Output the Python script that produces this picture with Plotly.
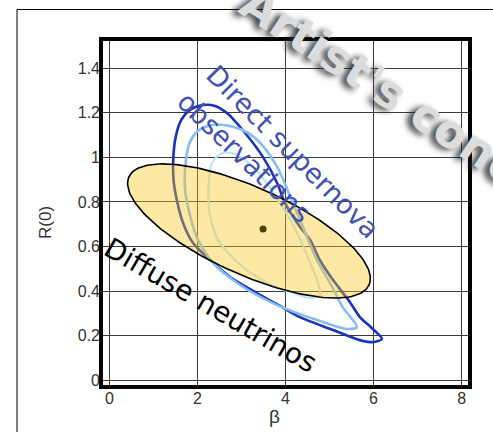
import numpy as np
import plotly.graph_objects as go

W, H = 493, 432
ML, MR, MT, MB = 101, 23, 39, 45

# ---------------- data ----------------
x_range = [-0.19, 8.19]
y_range = [-0.029, 1.530]
x_ticks = [0, 2, 4, 6, 8]
x_tick_labels = ["0", "2", "4", "6", "8"]
y_ticks = [0, 0.2, 0.4, 0.6, 0.8, 1.0, 1.2, 1.4]
y_tick_labels = ["0", "0.2", "0.4", "0.6", "0.8", "1", "1.2", "1.4"]

# outer (dark blue) contour of direct supernova observations
outer_beta = [6.19, 5.96, 5.69, 5.46, 5.08, 4.78, 4.56, 4.33, 3.99, 3.81, 3.49, 3.04,
              2.67, 2.40, 2.13, 1.83, 1.63, 1.51, 1.45, 1.47, 1.65, 1.90, 2.29, 2.74,
              3.35, 3.88, 4.33, 5.08, 5.69, 5.98, 6.19]
outer_r = [0.186, 0.235, 0.284, 0.352, 0.450, 0.540, 0.630, 0.688, 0.795, 0.885, 1.001, 1.119,
           1.198, 1.230, 1.234, 1.212, 1.167, 1.095, 0.988, 0.876, 0.719, 0.616, 0.540, 0.464,
           0.392, 0.334, 0.284, 0.226, 0.181, 0.172, 0.186]

# middle (light blue) contour
middle_beta = [5.62, 5.30, 5.01, 4.71, 4.49, 4.17, 3.81, 3.47, 3.15, 2.74, 2.33, 2.01,
               1.83, 1.74, 1.72, 1.83, 1.99, 2.36, 2.97, 3.81, 4.72, 5.40, 5.62]
middle_r = [0.240, 0.329, 0.437, 0.540, 0.643, 0.795, 0.957, 1.055, 1.109, 1.140, 1.145, 1.118,
            1.068, 0.988, 0.853, 0.741, 0.639, 0.526, 0.428, 0.338, 0.271, 0.231, 0.240]

# inner (lightest blue) contour
inner_beta = [2.56, 2.33, 2.25, 2.29, 2.47, 2.85, 3.47, 4.15, 4.60, 4.78, 4.74, 4.60,
              4.37, 4.15, 3.83, 3.47, 3.08, 2.79, 2.56]
inner_r = [1.019, 0.975, 0.853, 0.734, 0.630, 0.540, 0.450, 0.392, 0.370, 0.383, 0.437, 0.508,
           0.616, 0.705, 0.808, 0.911, 0.988, 1.019, 1.019]

# diffuse neutrino ellipse: centre and conjugate half-axis vectors (beta, R)
ellipse_center = [3.17, 0.670]
ellipse_u = [2.727, -0.242]
ellipse_v = [-0.405, -0.178]

# best-fit point
best_beta = [3.49]
best_r = [0.679]

# ---------------- helpers ----------------
def pxx(p):
    return (p - ML) / (W - ML - MR)

def pxy(p):
    return (H - MB - p) / (H - MT - MB)

t = np.linspace(0, 2 * np.pi, 181)
ell_b = ellipse_center[0] + ellipse_u[0] * np.cos(t) + ellipse_v[0] * np.sin(t)
ell_r = ellipse_center[1] + ellipse_u[1] * np.cos(t) + ellipse_v[1] * np.sin(t)

fig = go.Figure()

fig.add_trace(go.Scatter(x=outer_beta, y=outer_r, mode="lines",
                         line=dict(color="#1a34b8", width=2.6, shape="spline", smoothing=0.8),
                         hoverinfo="skip", showlegend=False))
fig.add_trace(go.Scatter(x=middle_beta, y=middle_r, mode="lines",
                         line=dict(color="#86bdf2", width=2.6, shape="spline", smoothing=0.8),
                         hoverinfo="skip", showlegend=False))
fig.add_trace(go.Scatter(x=inner_beta, y=inner_r, mode="lines",
                         line=dict(color="#bde5fa", width=2.2, shape="spline", smoothing=0.8),
                         hoverinfo="skip", showlegend=False))
fig.add_trace(go.Scatter(x=ell_b, y=ell_r, mode="lines", fill="toself",
                         fillcolor="rgba(250,200,25,0.40)",
                         line=dict(color="black", width=1.6),
                         hoverinfo="skip", showlegend=False))
fig.add_trace(go.Scatter(x=best_beta, y=best_r, mode="markers",
                         marker=dict(color="#4d3f0c", size=7),
                         hoverinfo="skip", showlegend=False))

axis_common = dict(showgrid=True, gridcolor="#3a3a3a", gridwidth=1, zeroline=False,
                   showline=False, ticks="", tickfont=dict(family="Liberation Sans, Arial", size=16, color="#333"))

fig.update_xaxes(range=x_range, tickvals=x_ticks, ticktext=x_tick_labels, **axis_common)
fig.update_yaxes(range=y_range, tickvals=y_ticks, ticktext=y_tick_labels, **axis_common)

shapes = [
    dict(type="rect", xref="paper", yref="paper", x0=0, y0=0, x1=1, y1=1,
         line=dict(color="black", width=4), layer="above"),
    dict(type="line", xref="paper", yref="paper", x0=pxx(17), y0=pxy(9.5), x1=pxx(495), y1=pxy(9.5),
         line=dict(color="black", width=1)),
    dict(type="line", xref="paper", yref="paper", x0=pxx(17), y0=pxy(9.5), x1=pxx(17), y1=pxy(434),
         line=dict(color="black", width=1)),
]

hand = "Comic Sans MS, DejaVu Sans, sans-serif"
C = dict(xref="paper", yref="paper", showarrow=False, xanchor="center", yanchor="middle")
annotations = [
    dict(text="β", x=pxx(274), y=pxy(416),
         font=dict(family="Liberation Sans, Arial", size=19, color="#333"), **C),
    dict(text="R(0)", x=pxx(45), y=pxy(223), textangle=-90,
         font=dict(family="Liberation Sans, Arial", size=17, color="#333"), **C),
    dict(text="Direct supernova", x=pxx(293), y=pxy(151), textangle=45,
         font=dict(family=hand, size=27, color="#4350b4"), **C),
    dict(text="observations", x=pxx(245), y=pxy(157), textangle=44,
         font=dict(family=hand, size=27, color="#4350b4"), **C),
    dict(text="Diffuse neutrinos", x=pxx(211), y=pxy(305), textangle=30,
         font=dict(family=hand, size=28, color="black"), **C),
    dict(text="Artist's conception", x=pxx(450), y=pxy(131), textangle=33,
         font=dict(family="DejaVu Sans", size=46, color="#dcdcdc", weight="bold",
                   shadow="-4px 4px 6px rgba(40,40,40,0.9)"), **C),
]

fig.update_layout(width=W, height=H, margin=dict(l=ML, r=MR, t=MT, b=MB),
                  paper_bgcolor="white", plot_bgcolor="white",
                  shapes=shapes, annotations=annotations, showlegend=False)

fig.write_html("out.html")
